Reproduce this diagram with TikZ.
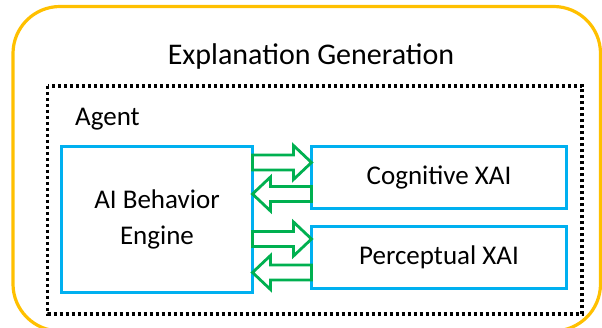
\documentclass[tikz,border=0pt]{standalone}
\usepackage{fontspec}
\setmainfont{Carlito}
\usetikzlibrary{calc}
\definecolor{framegold}{RGB}{255,192,0}
\definecolor{boxblue}{RGB}{0,176,240}
\definecolor{arrowgreen}{RGB}{0,176,80}
\tikzset{
	box/.style={draw=boxblue, line width=3.2pt, outer sep=0pt, inner sep=0pt, align=center},
	arrowline/.style={draw=arrowgreen, line width=2.8pt, fill=white, line join=miter},
	pics/fatarrow/.style={code={
		\draw[arrowline] (0,-7.5) -- (41,-7.5) -- (41,-17) -- (59,0) -- (41,17) -- (41,7.5) -- (0,7.5) -- cycle;
	}}
}

\begin{document}
\begin{tikzpicture}[x=1pt,y=-1pt,font=\fontsize{27}{36}\selectfont]
		\useasboundingbox (0,0) rectangle (602,328);
		\clip (0,0) rectangle (602,328);
		\draw[framegold, line width=3.2pt, rounded corners=47pt] (13,6.5) rectangle (600.5,331);
		\node [anchor=base, inner sep=0pt, font=\fontsize{30}{36}\selectfont] (title) at (311,65) {Explanation Generation};
		
		\draw[line width=3.2pt, dash pattern=on 3pt off 3pt] (47.5,86) rectangle (582,314);
		\node [anchor=base west, inner sep=0pt] (agent) at (75,126) {Agent};
		
		\node [box, minimum width=191pt, minimum height=146pt] (engine) at (157,219.5) {AI Behavior \\ Engine};
		\node [box, minimum width=255pt, minimum height=62pt] (cog) at (439,177.5) {Cognitive XAI};
		\node [box, minimum width=255pt, minimum height=62pt] (perc) at (439,257.5) {Perceptual XAI};
		
		\pic at ($(engine.east |- cog.center)+(0,-15)$) {fatarrow};
		\pic [xscale=-1] at ($(cog.west)+(0,16.5)$) {fatarrow};
		\pic at ($(engine.east |- perc.center)+(0,-18.5)$) {fatarrow};
		\pic [xscale=-1] at ($(perc.west)+(0,15)$) {fatarrow};
	\end{tikzpicture}
\end{document}
